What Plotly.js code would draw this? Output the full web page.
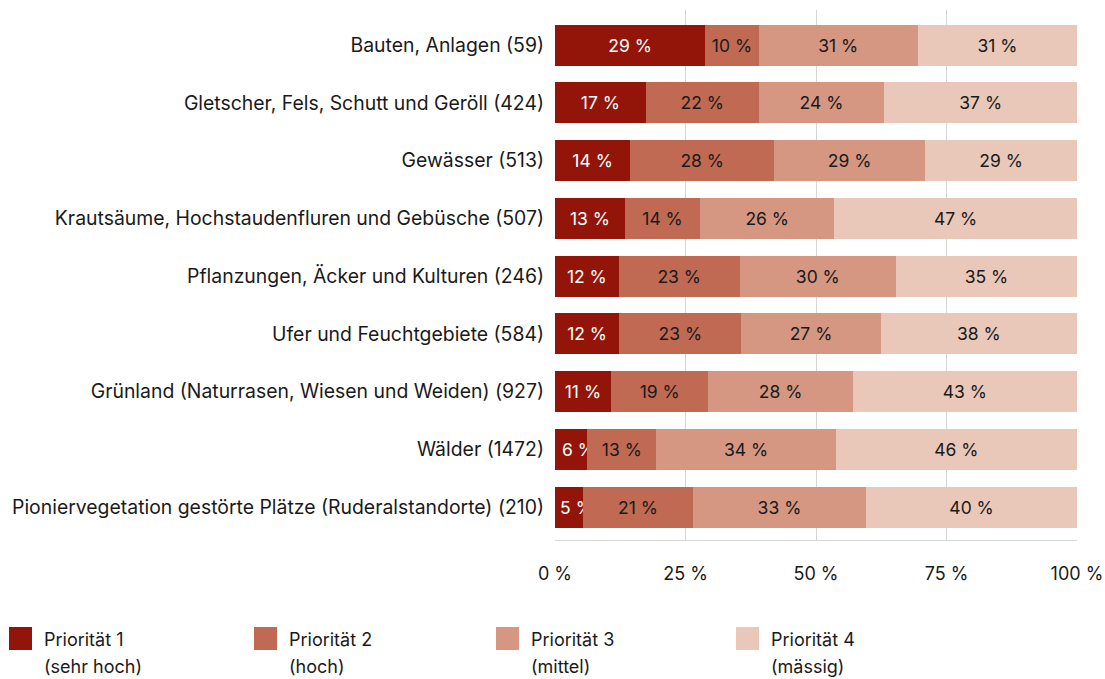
<!DOCTYPE html>
<html><head><meta charset="utf-8">
<script src="https://cdn.plot.ly/plotly-3.0.1.min.js"></script>
<style>html,body{margin:0;padding:0;background:#fff}#chart{width:1105px;height:679px}</style>
</head><body><div id="chart"></div>
<script>
const categories = [
  "Bauten, Anlagen (59)",
  "Gletscher, Fels, Schutt und Geröll (424)",
  "Gewässer (513)",
  "Krautsäume, Hochstaudenfluren und Gebüsche (507)",
  "Pflanzungen, Äcker und Kulturen (246)",
  "Ufer und Feuchtgebiete (584)",
  "Grünland (Naturrasen, Wiesen und Weiden) (927)",
  "Wälder (1472)",
  "Pioniervegetation gestörte Plätze (Ruderalstandorte) (210)"
];
const prio1 = [28.8, 17.4, 14.4, 13.4, 12.2, 12.3, 10.7, 6.2, 5.4];
const prio2 = [10.2, 21.6, 27.6, 14.4, 23.2, 23.4, 18.7, 13.2, 21.0];
const prio3 = [30.5, 24.1, 28.9, 25.7, 29.9, 26.7, 27.6, 34.4, 33.2];
const prio4 = [30.5, 36.9, 29.1, 46.5, 34.7, 37.6, 43.0, 46.2, 40.4];
const seriesNames = ["Priorität 1", "Priorität 2", "Priorität 3", "Priorität 4"];
const seriesSub = ["(sehr hoch)", "(hoch)", "(mittel)", "(mässig)"];
const tickVals = [0, 25, 50, 75, 100];
const tickLabels = ["0 %", "25 %", "50 %", "75 %", "100 %"];

const colors = ["#931409", "#c06a53", "#d59782", "#eac8b9"];
const textColors = ["#ffffff", "#1a1a1a", "#1a1a1a", "#1a1a1a"];
const FONT = "Inter, 'Noto Sans', sans-serif";
const allSeries = [prio1, prio2, prio3, prio4];

const W = 1105, H = 679;
const M = {l: 555, r: 28, t: 10, b: 139};
const PW = W - M.l - M.r, PH = H - M.t - M.b;
const px2x = p => (p - M.l) / PW;
const py2y = p => (H - M.b - p) / PH;

// labels of very narrow segments get a little leading space so they start inside the bar
const fmt = v => (v < 8 ? "\u00a0\u00a0\u00a0" : "") + Math.round(v) + " %";

const traces = allSeries.map((vals, i) => ({
  type: "bar",
  orientation: "h",
  name: seriesNames[i] + " " + seriesSub[i],
  x: vals,
  y: categories,
  marker: {color: colors[i], line: {width: 0}},
  text: vals.map(fmt),
  textposition: "inside",
  insidetextanchor: "middle",
  textangle: 0,
  constraintext: "none",
  cliponaxis: false,
  textfont: {family: FONT, size: 17.5, color: textColors[i]},
  hoverinfo: "name+x",
  showlegend: false
}));

// custom legend (layout only)
const legendX = [9, 254, 496, 736];
const shapes = [], annotations = [];
legendX.forEach((lx, i) => {
  shapes.push({type: "rect", xref: "paper", yref: "paper",
    x0: px2x(lx), x1: px2x(lx + 23), y0: py2y(650), y1: py2y(627),
    fillcolor: colors[i], line: {width: 0}});
  annotations.push({xref: "paper", yref: "paper", x: px2x(lx + 33), y: py2y(639),
    xanchor: "left", yanchor: "middle", showarrow: false,
    text: seriesNames[i], font: {family: FONT, size: 18, color: "#1a1a1a"}});
  annotations.push({xref: "paper", yref: "paper", x: px2x(lx + 33), y: py2y(666),
    xanchor: "left", yanchor: "middle", showarrow: false,
    text: seriesSub[i], font: {family: FONT, size: 18, color: "#1a1a1a"}});
});

const layout = {
  width: W, height: H,
  barmode: "stack",
  bargap: 0.29,
  margin: M,
  paper_bgcolor: "#ffffff",
  plot_bgcolor: "#ffffff",
  font: {family: FONT, size: 18, color: "#1a1a1a"},
  xaxis: {
    range: [0, 100],
    tickvals: tickVals,
    ticktext: tickLabels,
    showgrid: true,
    gridcolor: "#d6d6d6",
    gridwidth: 1,
    zeroline: false,
    showline: true,
    linecolor: "#d6d6d6",
    linewidth: 1,
    ticks: "",
    ticklabelstandoff: 17,
    tickfont: {family: FONT, size: 18, color: "#1a1a1a"},
    fixedrange: true
  },
  yaxis: {
    type: "category",
    categoryorder: "array",
    categoryarray: categories,
    range: [8.57, -0.606],
    showgrid: false,
    zeroline: false,
    showline: false,
    ticks: "",
    ticklabelstandoff: 10,
    tickfont: {family: FONT, size: 19.4, color: "#1a1a1a"},
    fixedrange: true
  },
  showlegend: false,
  shapes: shapes,
  annotations: annotations
};

Plotly.newPlot("chart", traces, layout, {displayModeBar: false, staticPlot: true});
</script>
</body></html>
